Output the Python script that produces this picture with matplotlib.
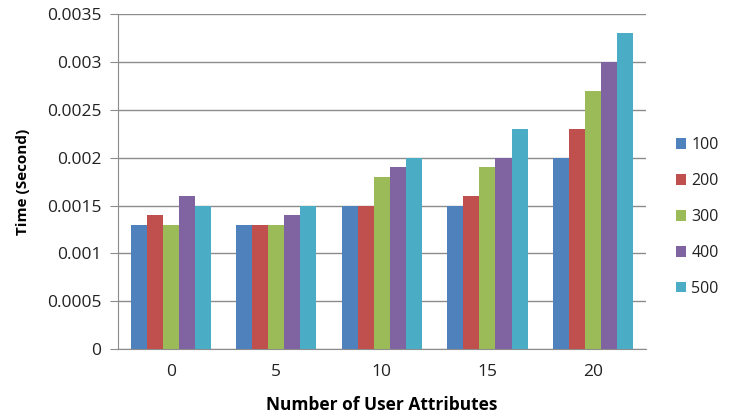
import numpy as np
import matplotlib.pyplot as plt

attributes = ["0", "5", "10", "15", "20"]
series_names = ["100", "200", "300", "400", "500"]
t100 = [0.0013, 0.0013, 0.0015, 0.0015, 0.0020]
t200 = [0.0014, 0.0013, 0.0015, 0.0016, 0.0023]
t300 = [0.0013, 0.0013, 0.0018, 0.0019, 0.0027]
t400 = [0.0016, 0.0014, 0.0019, 0.0020, 0.0030]
t500 = [0.0015, 0.0015, 0.0020, 0.0023, 0.0033]
colors = ["#4F81BD", "#C0504D", "#9BBB59", "#8064A2", "#4BACC6"]

plt.rcParams['font.family'] = ['Open Sans', 'DejaVu Sans']

fig = plt.figure(figsize=(7.33, 4.17), dpi=100)
ax = fig.add_axes([0.161, 0.163, 0.72, 0.803])

x = np.arange(len(attributes))
w = 0.152
for i, (vals, name) in enumerate(zip([t100, t200, t300, t400, t500], series_names)):
    ax.bar(x + (i - 2) * w, vals, width=w, color=colors[i], label=name, zorder=3)

ax.set_xlim(-0.5, 4.5)
ax.set_ylim(0, 0.0035)
ax.set_yticks(np.arange(0, 0.0036, 0.0005))
ax.set_yticklabels(["0", "0.0005", "0.001", "0.0015", "0.002", "0.0025", "0.003", "0.0035"])
ax.set_xticks(x)
ax.set_xticklabels(attributes)
ax.grid(axis='y', color='#8c8c8c', linewidth=1, zorder=0)
for s in ['top', 'right']:
    ax.spines[s].set_visible(False)
ax.spines['left'].set_color('#8c8c8c')
ax.spines['bottom'].set_color('#8c8c8c')
ax.tick_params(axis='y', length=6, color='#8c8c8c', labelsize=12.5, pad=6, labelcolor='#222222')
ax.tick_params(axis='x', length=0, labelsize=12.5, pad=11, labelcolor='#222222')

ax.set_ylabel("Time (Second)", fontweight='bold', fontsize=11, labelpad=12)
ax.set_xlabel("Number of User Attributes", fontweight='bold', fontsize=12.5, labelpad=11)

ax.legend(loc='center left', bbox_to_anchor=(1.03, 0.394), frameon=False, fontsize=11.5,
          handlelength=0.6, handleheight=0.6, labelspacing=1.25, handletextpad=0.35,
          labelcolor='#222222')

fig.savefig("out.png", dpi=100)
